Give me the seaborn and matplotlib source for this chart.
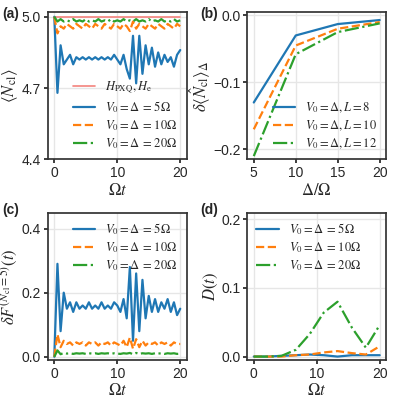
import numpy as np
import matplotlib
matplotlib.use("Agg")
import matplotlib.pyplot as plt
import seaborn as sns

sns.set_theme(style="whitegrid")
plt.rcParams['font.family'] = ['Liberation Sans', 'DejaVu Sans']
plt.rcParams['mathtext.fontset'] = 'stix'
plt.rcParams.update({'axes.edgecolor': '#333333', 'xtick.bottom': True, 'ytick.left': True,
                     'grid.color': '#e6e6e6', 'font.size': 10})

t = np.arange(0, 20.01, 0.5)
a_blue = [5.0,4.68,4.88,4.80,4.82,4.84,4.80,4.83,4.82,4.83,4.82,4.83,4.82,4.83,4.82,4.83,4.82,4.83,4.82,4.84,
          4.82,4.80,4.84,4.78,4.74,4.92,4.72,4.92,4.76,4.88,4.80,4.87,4.79,4.85,4.80,4.84,4.81,4.83,4.79,4.84,4.86]
a_orange = [5.0,4.93,4.96,4.95,4.97,4.96,4.95,4.97,4.96,4.95,4.97,4.96,4.95,4.97,4.96,4.95,4.97,4.96,4.95,4.97,
            4.96,4.95,4.97,4.96,4.94,4.98,4.95,4.97,4.96,4.95,4.97,4.96,4.95,4.97,4.96,4.95,4.97,4.96,4.95,4.97,4.96]
a_green = [5.0,4.98,4.99,4.98,4.985,4.98,4.99,4.98,4.985,4.98,4.99,4.98,4.985,4.98,4.99,4.98,4.985,4.98,4.99,4.98,
           4.985,4.98,4.99,4.98,4.985,4.98,4.99,4.98,4.985,4.98,4.99,4.98,4.985,4.98,4.99,4.98,4.985,4.98,4.99,4.98,4.985]
a_ref = [5.0] * len(t)

c_blue = [0.0,0.29,0.08,0.20,0.15,0.17,0.14,0.17,0.15,0.16,0.15,0.17,0.15,0.16,0.15,0.17,0.15,0.16,0.15,0.17,
          0.16,0.14,0.18,0.12,0.28,0.05,0.26,0.08,0.24,0.12,0.19,0.14,0.18,0.14,0.17,0.15,0.18,0.14,0.17,0.13,0.15]
c_orange = [0.0,0.07,0.03,0.05,0.04,0.045,0.035,0.045,0.04,0.045,0.035,0.045,0.04,0.045,0.035,0.045,0.04,0.045,0.035,0.045,
            0.04,0.035,0.05,0.03,0.06,0.025,0.055,0.03,0.05,0.035,0.045,0.04,0.045,0.035,0.045,0.04,0.045,0.035,0.045,0.04,0.04]
c_green = [0.0,0.02,0.008,0.012,0.01,0.011,0.009,0.011,0.01,0.011,0.009,0.011,0.01,0.011,0.009,0.011,0.01,0.011,0.009,0.011,
           0.01,0.009,0.011,0.01,0.012,0.008,0.012,0.009,0.011,0.01,0.011,0.009,0.011,0.01,0.011,0.009,0.011,0.01,0.011,0.009,0.01]

b_x = [5, 10, 15, 20]
b_L8 = [-0.13, -0.03, -0.013, -0.007]
b_L10 = [-0.17, -0.045, -0.02, -0.01]
b_L12 = [-0.21, -0.058, -0.025, -0.012]

d_t = [0, 2.2, 4.4, 6.7, 8.9, 11.1, 13.3, 15.6, 17.8, 20]
d_blue = [0, 0, 0.001, 0.002, 0.003, 0.002, 0.0, 0.002, 0.002, 0.002]
d_orange = [0, 0, 0, 0.002, 0.003, 0.006, 0.008, 0.005, 0.003, 0.015]
d_green = [0, 0, 0.001, 0.01, 0.033, 0.064, 0.08, 0.042, 0.013, 0.046]

B, O, G, R = '#1f77b4', '#ff7f0e', '#2ca02c', '#f4837d'
labs = [r'$V_0=\Delta\,=\,5\Omega$', r'$V_0=\Delta\,=\,10\Omega$', r'$V_0=\Delta\,=\,20\Omega$']

fig, axs = plt.subplots(2, 2, figsize=(4, 4), dpi=100)
plt.subplots_adjust(left=0.12, right=0.965, top=0.97, bottom=0.1, wspace=0.44, hspace=0.36)
ax = axs[0, 0]
sns.lineplot(x=t, y=a_ref, ax=ax, color=R, lw=1.2, label=r'$H_{\rm PXQ}, H_{\rm e}$')
sns.lineplot(x=t, y=a_blue, ax=ax, color=B, lw=1.6, label=labs[0])
sns.lineplot(x=t, y=a_orange, ax=ax, color=O, lw=1.6, ls='--', label=labs[1])
sns.lineplot(x=t, y=a_green, ax=ax, color=G, lw=1.6, ls='-.', label=labs[2])
ax.set_ylim(4.4, 5.02); ax.set_yticks([4.4, 4.7, 5.0])
ax.set_ylabel(r'$\langle \hat{N}_{\rm cl}\rangle$', labelpad=1)

ax = axs[0, 1]
sns.lineplot(x=b_x, y=b_L8, ax=ax, color=B, lw=1.6, label=r'$V_0=\Delta, L=8$')
sns.lineplot(x=b_x, y=b_L10, ax=ax, color=O, lw=1.6, ls='--', label=r'$V_0=\Delta, L=10$')
sns.lineplot(x=b_x, y=b_L12, ax=ax, color=G, lw=1.6, ls='-.', label=r'$V_0=\Delta, L=12$')
ax.set_ylim(-0.215, 0.005); ax.set_yticks([-0.2, -0.1, 0.0]); ax.set_xticks([5, 10, 15, 20])
ax.set_xlabel(r'$\Delta/\Omega$'); ax.set_ylabel(r'$\delta\langle \hat{N}_{\rm cl}\rangle_\Delta$', labelpad=1)

ax = axs[1, 0]
sns.lineplot(x=t, y=c_blue, ax=ax, color=B, lw=1.6, label=labs[0])
sns.lineplot(x=t, y=c_orange, ax=ax, color=O, lw=1.6, ls='--', label=labs[1])
sns.lineplot(x=t, y=c_green, ax=ax, color=G, lw=1.6, ls='-.', label=labs[2])
ax.set_ylim(-0.01, 0.45); ax.set_yticks([0.0, 0.2, 0.4])
ax.set_ylabel(r'$\delta F^{(N_{\rm cl}=5)}(t)$', labelpad=1)

ax = axs[1, 1]
sns.lineplot(x=d_t, y=d_blue, ax=ax, color=B, lw=1.6, marker='o', mec='none', ms=6, label=labs[0])
sns.lineplot(x=d_t, y=d_orange, ax=ax, color=O, lw=1.6, ls='--', marker='s', mec='none', ms=6, mfc='#f5b800', label=labs[1])
sns.lineplot(x=d_t, y=d_green, ax=ax, color=G, lw=1.6, ls='-.', marker='^', mec='none', ms=6, mfc='#178a17', label=labs[2])
ax.set_ylim(-0.005, 0.21); ax.set_yticks([0.0, 0.1, 0.2]); ax.set_xticks([0, 10, 20])
ax.set_ylabel(r'$D(t)$', labelpad=1)

locs = {'a': 'lower right', 'b': 'lower right', 'c': 'upper right', 'd': 'upper left'}
for a_, l in zip(axs.flat, 'abcd'):
    h, lb = a_.get_legend_handles_labels()
    if l == 'd':
        for hh in h:
            hh.set_marker('')
    a_.legend(h, lb, frameon=False, fontsize=9, loc=locs[l], handlelength=1.8, labelspacing=0.25,
              borderaxespad=0.3)
    if l != 'b':
        a_.set_xlim(-1, 21); a_.set_xticks([0, 10, 20]); a_.set_xlabel(r'$\Omega t$', labelpad=1)
    else:
        a_.xaxis.labelpad = 1
    a_.tick_params(labelsize=10, length=3, pad=2)
for l, (x, y) in zip('abcd', [(0.005, 0.965), (0.5, 0.965), (0.005, 0.475), (0.5, 0.475)]):
    fig.text(x, y, f'({l})', fontweight='bold', fontsize=10, va='center')
fig.savefig('out.png', dpi=100)
